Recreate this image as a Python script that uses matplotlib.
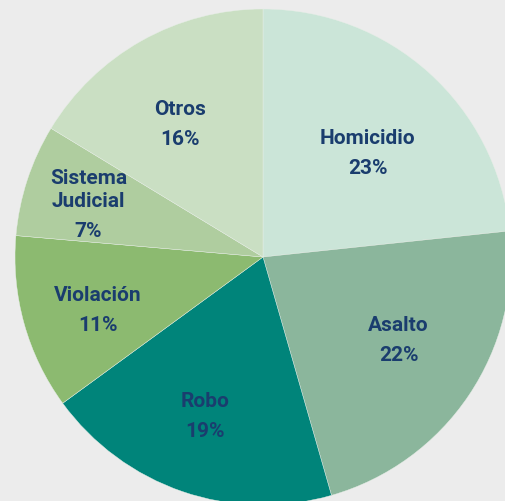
import numpy as np
import matplotlib
matplotlib.use('Agg')
import matplotlib.pyplot as plt

categories = ['Homicidio', 'Asalto', 'Robo', 'Violación', 'Sistema\nJudicial', 'Otros']
shares = [23.3, 22.2, 19.4, 11.4, 7.3, 16.3]
colors = ['#cbe5d8', '#8bb69c', '#00847a', '#8cba70', '#afcd9f', '#cadfc3']

label_r = [0.60, 0.63, 0.68, 0.70, 0.74, 0.64]   # radial position of each label
nudge = [(5, -6), (6, 5), (-3, 1), (2, -6), (0, -16), (-5, -5)]  # pixel tweaks
text_color = '#1a3d6e'
fs = 15
px = 248.0

fig = plt.figure(figsize=(5.06, 5.02), dpi=100, facecolor='#ececec')
ax = fig.add_axes([0, 0, 1, 1])
ax.set_facecolor('#ececec')

wedges, _ = ax.pie(shares, colors=colors, startangle=90, counterclock=False,
                   radius=1, wedgeprops=dict(edgecolor='#e8efe8', linewidth=0.3))

for w, name, val, r, (ndx, ndy) in zip(wedges, categories, shares, label_r, nudge):
    ang = np.deg2rad((w.theta1 + w.theta2) / 2)
    x = r * np.cos(ang) + ndx / px
    y = r * np.sin(ang) + ndy / px
    extra = name.count('\n') * 0.05
    ax.text(x, y + 0.06 + extra, name, ha='center', va='center', color=text_color,
            fontsize=fs, fontweight='bold', family='Roboto', linespacing=1.25)
    ax.text(x, y - 0.06, f'{val:.0f}%', ha='center', va='center', color=text_color,
            fontsize=fs, fontweight='bold', family='Roboto')

ax.set_xlim(-263 / px, 243 / px)
ax.set_ylim(-244 / px, 258 / px)
ax.set_aspect('auto')
ax.axis('off')

fig.savefig('out.png', dpi=100, facecolor=fig.get_facecolor())
